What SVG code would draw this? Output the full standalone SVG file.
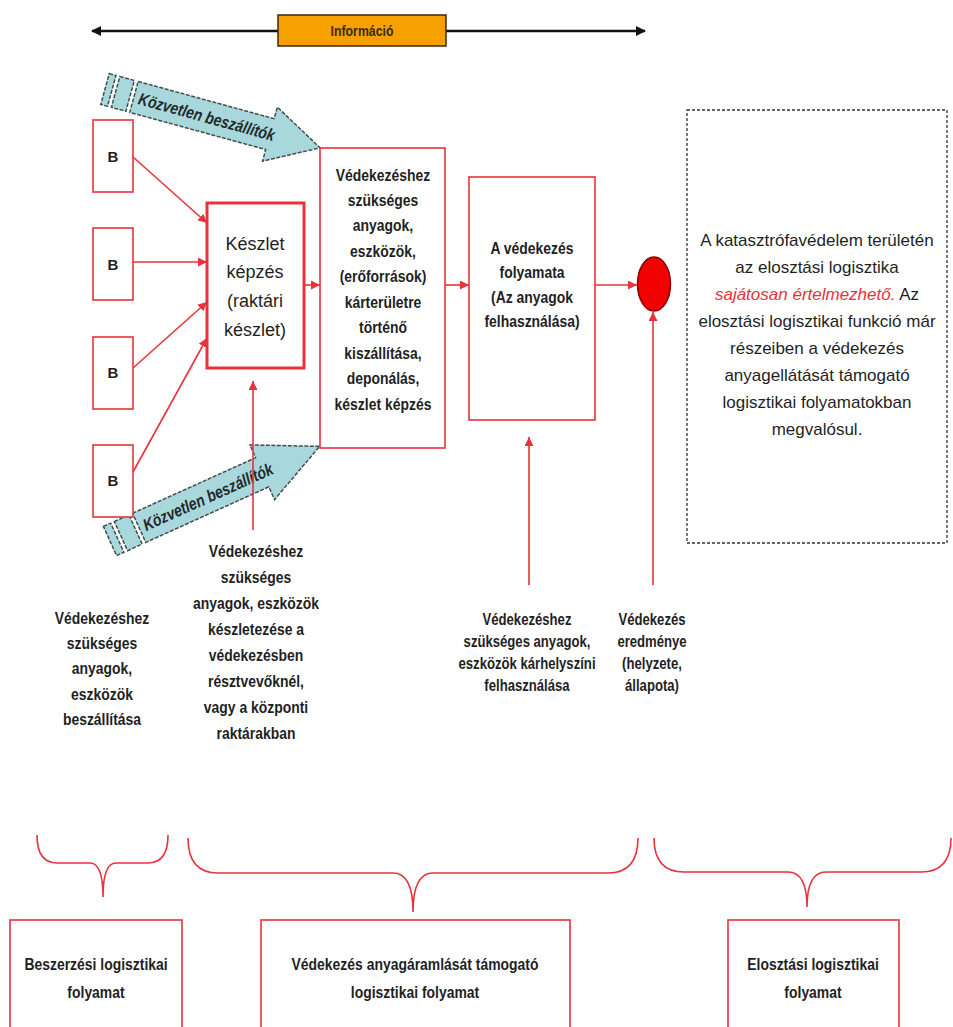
<svg xmlns="http://www.w3.org/2000/svg" width="953" height="1027" viewBox="0 0 953 1027">
<style>
.n{font-family:"Liberation Sans",Arial,sans-serif;font-weight:bold;fill:#1f1f1f;text-anchor:middle}
.r{font-family:"Liberation Sans",Arial,sans-serif;fill:#1f1f1f;text-anchor:middle}
.box{fill:#fff;stroke:#e8323c;stroke-width:1.6}
.ln{stroke:#e8323c;stroke-width:1.6;fill:none}
.blue{fill:#a9d8dc;stroke:#3f4f50;stroke-width:1.5;stroke-dasharray:4 1.5}
.kv{font-family:"Liberation Sans",Arial,sans-serif;font-weight:bold;font-style:italic;font-size:17px;fill:#1f2a2c}
</style>
<defs>
<marker id="ar" viewBox="0 0 10 10" refX="10" refY="5" markerWidth="9" markerHeight="9" markerUnits="userSpaceOnUse" orient="auto"><path d="M0,0 L10,5 L0,10 z" fill="#e8323c"/></marker>
<marker id="ab" viewBox="0 0 10 10" refX="9" refY="5" markerWidth="10" markerHeight="10" markerUnits="userSpaceOnUse" orient="auto-start-reverse"><path d="M0,0 L10,5 L0,10 z" fill="#111"/></marker>
</defs>
<rect width="953" height="1027" fill="#fff"/>

<g id="info">
<line x1="92" y1="31" x2="645" y2="31" stroke="#111" stroke-width="2.5" marker-start="url(#ab)" marker-end="url(#ab)"/>
<rect x="278" y="15" width="168" height="31" fill="#f7a100" stroke="#3a2a10" stroke-width="1.5"/>
<g transform="translate(362,36) scale(0.82,1)"><text x="0" y="0" class="n" style="font-size:15px;fill:#3a2a10">Információ</text></g>
</g>

<g id="arrow-top" transform="translate(105,89) rotate(15.3)">
<rect x="0" y="-16" width="7" height="32" class="blue"/>
<rect x="11" y="-16" width="15" height="32" class="blue"/>
<path d="M30,-16 L171,-16 L171,-28 L223,0 L171,28 L171,16 L30,16 Z" class="blue"/>
<text transform="translate(35,6) scale(0.82,1)" class="kv">Közvetlen beszállítók</text>
</g>
<g id="arrow-bottom" transform="translate(110,541) rotate(-24.3)">
<rect x="0" y="-16" width="8" height="32" class="blue"/>
<rect x="12" y="-16" width="16" height="32" class="blue"/>
<path d="M32,-16 L167,-16 L167,-30 L230,0 L167,30 L167,16 L32,16 Z" class="blue"/>
<text transform="translate(37,6) scale(0.82,1)" class="kv">Közvetlen beszállítók</text>
</g>

<g id="b1"><rect x="93" y="120" width="40" height="72" class="box"/><text x="113" y="162" class="n" style="font-size:15px">B</text></g>
<g id="b2"><rect x="93" y="228" width="40" height="72" class="box"/><text x="113" y="270" class="n" style="font-size:15px">B</text></g>
<g id="b3"><rect x="93" y="337" width="40" height="72" class="box"/><text x="113" y="378" class="n" style="font-size:15px">B</text></g>
<g id="b4"><rect x="93" y="445" width="40" height="72" class="box"/><text x="113" y="486" class="n" style="font-size:15px">B</text></g>

<g id="keszlet">
<rect x="207" y="203" width="97" height="165" class="box" style="stroke-width:3"/>
<text class="r" style="font-size:18px"><tspan x="255" y="250">Készlet</tspan><tspan x="255" y="278">képzés</tspan><tspan x="255" y="307">(raktári</tspan><tspan x="255" y="336">készlet)</tspan></text>
</g>

<g id="kiszallitas">
<rect x="320" y="148" width="125" height="300" class="box"/>
<g transform="translate(383,0) scale(0.82,1)">
<text class="n" style="font-size:17px"><tspan x="0" y="181">Védekezéshez</tspan><tspan x="0" y="206">szükséges</tspan><tspan x="0" y="231">anyagok,</tspan><tspan x="0" y="257">eszközök,</tspan><tspan x="0" y="282">(erőforrások)</tspan><tspan x="0" y="308">kárterületre</tspan><tspan x="0" y="333">történő</tspan><tspan x="0" y="359">kiszállítása,</tspan><tspan x="0" y="384">deponálás,</tspan><tspan x="0" y="410">készlet képzés</tspan></text>
</g>
</g>

<g id="folyamata">
<rect x="469" y="177" width="126" height="243" class="box"/>
<g transform="translate(532,0) scale(0.82,1)">
<text class="n" style="font-size:17px"><tspan x="0" y="254">A védekezés</tspan><tspan x="0" y="278">folyamata</tspan><tspan x="0" y="303">(Az anyagok</tspan><tspan x="0" y="327">felhasználása)</tspan></text>
</g>
</g>

<g id="eredmeny">
<ellipse cx="654" cy="284" rx="16.5" ry="27" fill="#f00000" stroke="#8a0000" stroke-width="1.5"/>
</g>

<g id="note">
<rect x="687" y="110" width="260" height="433" fill="none" stroke="#333" stroke-width="1.3" stroke-dasharray="3 2"/>
<text class="r" style="font-size:17px"><tspan x="817" y="246">A katasztrófavédelem területén</tspan><tspan x="817" y="273">az elosztási logisztika</tspan><tspan x="817" y="300"><tspan style="fill:#e8323c;font-style:italic">sajátosan értelmezhető.</tspan> Az</tspan><tspan x="817" y="327">elosztási logisztikai funkció már</tspan><tspan x="817" y="354">részeiben a védekezés</tspan><tspan x="817" y="381">anyagellátását támogató</tspan><tspan x="817" y="408">logisztikai folyamatokban</tspan><tspan x="817" y="435">megvalósul.</tspan></text>
</g>

<g id="connectors">
<line x1="133" y1="157" x2="207" y2="223" class="ln" marker-end="url(#ar)"/>
<line x1="133" y1="262" x2="207" y2="262" class="ln" marker-end="url(#ar)"/>
<line x1="133" y1="368" x2="207" y2="302" class="ln" marker-end="url(#ar)"/>
<line x1="133" y1="472" x2="207" y2="338" class="ln" marker-end="url(#ar)"/>
<line x1="304" y1="285" x2="320" y2="285" class="ln" marker-end="url(#ar)"/>
<line x1="445" y1="285" x2="469" y2="285" class="ln" marker-end="url(#ar)"/>
<line x1="595" y1="285" x2="637" y2="285" class="ln" marker-end="url(#ar)"/>
<line x1="253" y1="530" x2="253" y2="381" class="ln" marker-end="url(#ar)"/>
<line x1="529" y1="585" x2="529" y2="437" class="ln" marker-end="url(#ar)"/>
<line x1="653" y1="585" x2="653" y2="312" class="ln" marker-end="url(#ar)"/>
</g>

<g id="labels">
<g transform="translate(102,0) scale(0.82,1)">
<text class="n" style="font-size:17px"><tspan x="0" y="624">Védekezéshez</tspan><tspan x="0" y="649">szükséges</tspan><tspan x="0" y="674">anyagok,</tspan><tspan x="0" y="700">eszközök</tspan><tspan x="0" y="725">beszállítása</tspan></text>
</g>
<g transform="translate(256,0) scale(0.82,1)">
<text class="n" style="font-size:17px"><tspan x="0" y="557">Védekezéshez</tspan><tspan x="0" y="583">szükséges</tspan><tspan x="0" y="609">anyagok, eszközök</tspan><tspan x="0" y="635">készletezése a</tspan><tspan x="0" y="661">védekezésben</tspan><tspan x="0" y="687">résztvevőknél,</tspan><tspan x="0" y="713">vagy a központi</tspan><tspan x="0" y="739">raktárakban</tspan></text>
</g>
<g transform="translate(527,0) scale(0.82,1)">
<text class="n" style="font-size:16px"><tspan x="0" y="625">Védekezéshez</tspan><tspan x="0" y="647">szükséges anyagok,</tspan><tspan x="0" y="669">eszközök kárhelyszíni</tspan><tspan x="0" y="691">felhasználása</tspan></text>
</g>
<g transform="translate(652,0) scale(0.82,1)">
<text class="n" style="font-size:16px"><tspan x="0" y="625">Védekezés</tspan><tspan x="0" y="647">eredménye</tspan><tspan x="0" y="669">(helyzete,</tspan><tspan x="0" y="691">állapota)</tspan></text>
</g>
</g>

<g id="braces">
<path d="M37,835 Q37,863 57,863 L90,863 Q103,863 103,897 Q103,863 116,863 L148,863 Q168,863 168,835" class="ln"/>
<path d="M188,838 Q188,873 218,873 L393,873 Q413,873 413,912 Q413,873 433,873 L608,873 Q638,873 638,838" class="ln"/>
<path d="M654,838 Q654,872 684,872 L788,872 Q807,872 807,907 Q807,872 826,872 L921,872 Q951,872 951,838" class="ln"/>
</g>

<g id="beszerzesi">
<rect x="10" y="920" width="172" height="120" class="box"/>
<g transform="translate(96,0) scale(0.82,1)">
<text class="n" style="font-size:17px"><tspan x="0" y="970">Beszerzési logisztikai</tspan><tspan x="0" y="998">folyamat</tspan></text>
</g>
</g>
<g id="tamogato">
<rect x="261" y="920" width="309" height="120" class="box"/>
<g transform="translate(415,0) scale(0.82,1)">
<text class="n" style="font-size:17px"><tspan x="0" y="970">Védekezés anyagáramlását támogató</tspan><tspan x="0" y="998">logisztikai folyamat</tspan></text>
</g>
</g>
<g id="elosztasi">
<rect x="728" y="920" width="171" height="120" class="box"/>
<g transform="translate(813,0) scale(0.82,1)">
<text class="n" style="font-size:17px"><tspan x="0" y="970">Elosztási logisztikai</tspan><tspan x="0" y="998">folyamat</tspan></text>
</g>
</g>
</svg>
